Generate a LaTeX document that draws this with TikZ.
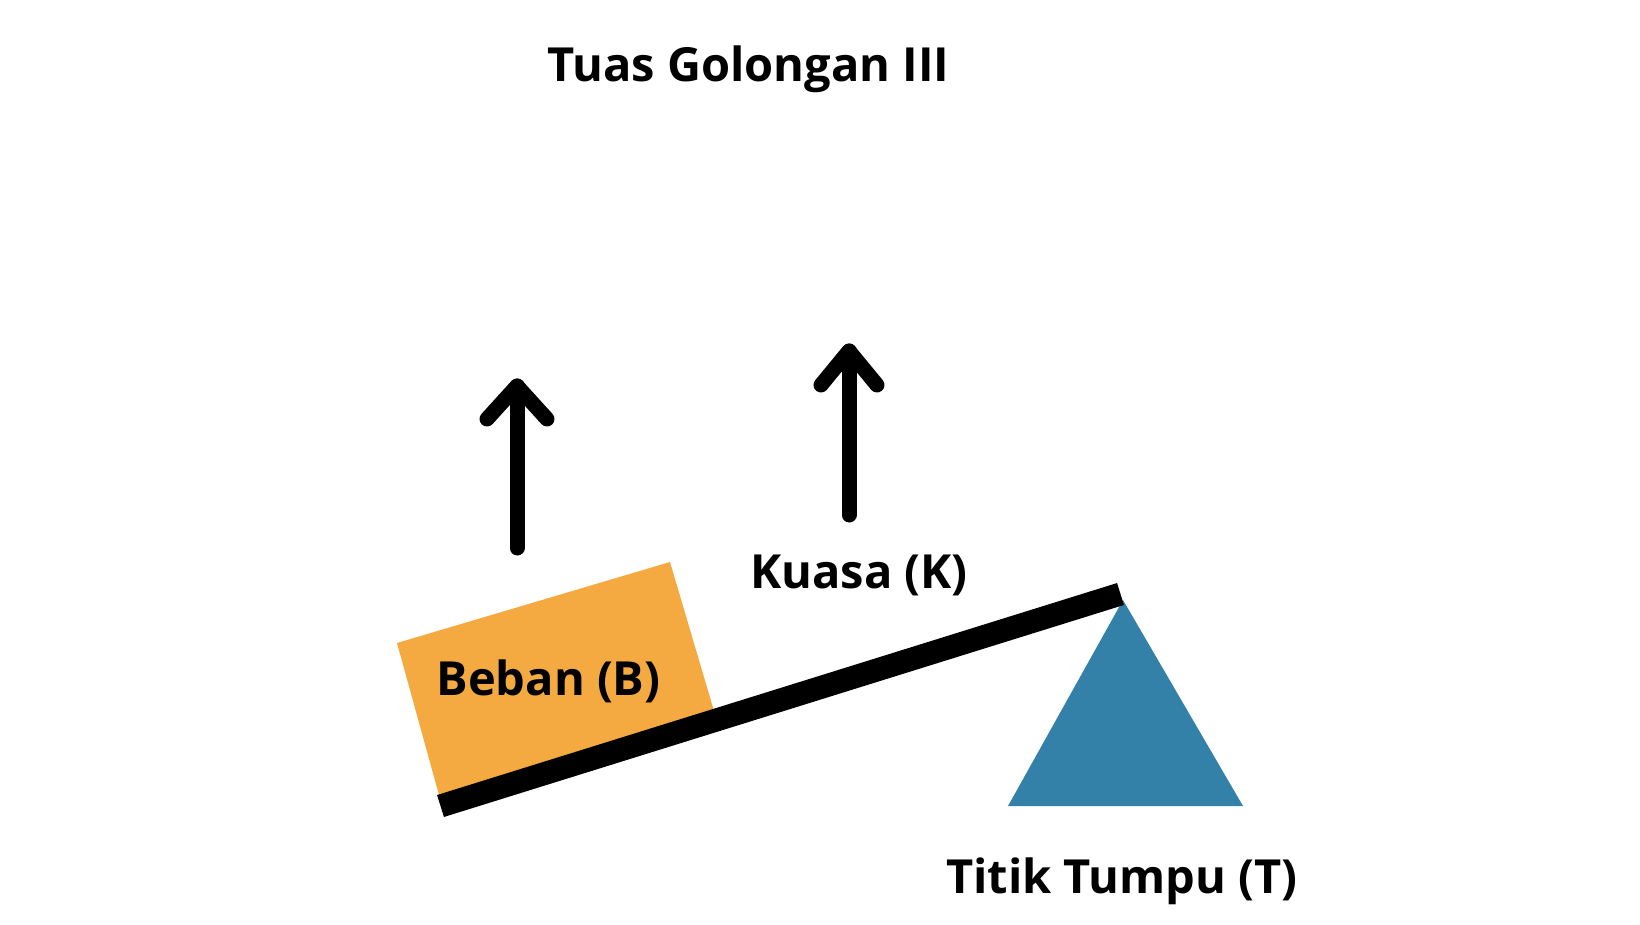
\documentclass[tikz,border=0pt]{standalone}
\usepackage{fontspec}
\setmainfont{Open Sans}
\usetikzlibrary{calc}
\definecolor{boxorange}{HTML}{F4AA41}
\definecolor{fulcblue}{HTML}{3381A8}
\begin{document}
\begin{tikzpicture}[x=1pt,y=-1pt,
  lbl/.style={font=\bfseries\fontsize{47}{53}\selectfont, anchor=base, inner sep=0pt, text=black},
  forcearrow/.style={line width=15pt, line cap=round, line join=round, draw=black},
  beam/.style={line width=23pt, line cap=butt, draw=black}]
\useasboundingbox (0,0) rectangle (1640,924);
\fill[white] (0,0) rectangle (1640,924);
% title
\node[lbl] (title) at (748.5,81.7) {Tuas Golongan III};
% load box
\fill[boxorange] (397,643) -- (670,562) -- (714,711) -- (439,795) -- cycle;
% fulcrum
\fill[fulcblue] (1123,600) -- (1243,806) -- (1008,806) -- cycle;
% beam
\coordinate (beamL) at (440.5,806);
\coordinate (beamR) at (1120.5,594);
\draw[beam] (beamL) -- (beamR);
% arrows
\coordinate (a1b) at (517,548);
\coordinate (a1t) at (517,386);
\draw[forcearrow] (a1b) -- (a1t);
\draw[forcearrow] ($(a1t)+(-30,33)$) -- (a1t) -- ($(a1t)+(30,33)$);
\coordinate (a2b) at (849,515);
\coordinate (a2t) at (849,351);
\draw[forcearrow] (a2b) -- (a2t);
\draw[forcearrow] ($(a2t)+(-28,34)$) -- (a2t) -- ($(a2t)+(28,34)$);
% labels
\node[lbl] (kuasa) at (859,588) {Kuasa (K)};
\node[lbl] (beban) at (548.5,695) {Beban (B)};
\node[lbl] (titik) at (1122,893) {Titik Tumpu (T)};
\end{tikzpicture}
\end{document}
